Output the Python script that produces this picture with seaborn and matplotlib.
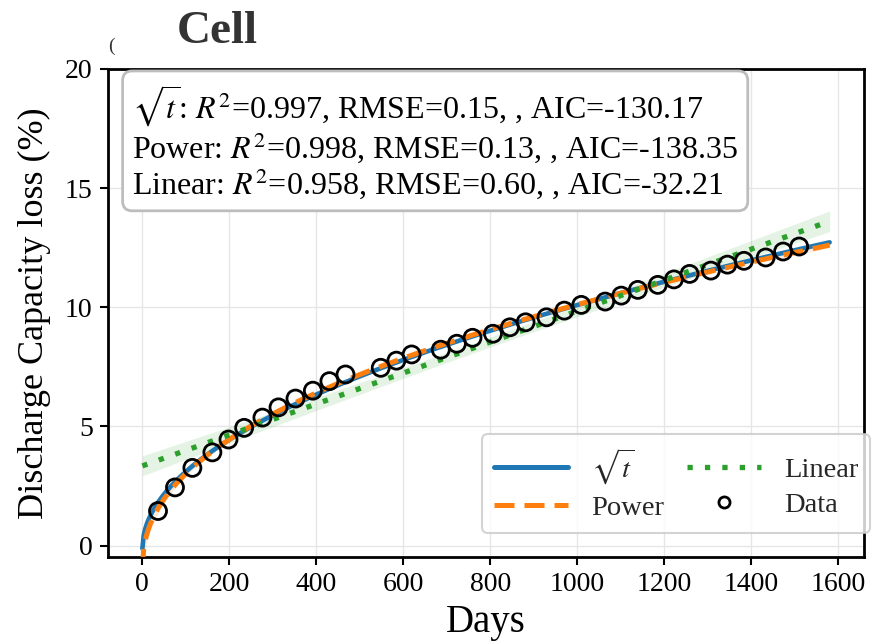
import numpy as np
import pandas as pd
import matplotlib
matplotlib.use("Agg")
import matplotlib.pyplot as plt
import seaborn as sns
from matplotlib.lines import Line2D

# ---------------- data ----------------
days = [36, 75, 115, 161, 198, 234, 276, 313, 352, 392, 430, 467,
        548, 584, 619, 686, 723, 759, 806, 845, 881, 929, 970, 1009,
        1064, 1101, 1139, 1185, 1222, 1258, 1307, 1345, 1383, 1433, 1473, 1510]
loss = [1.45, 2.44, 3.26, 3.91, 4.45, 4.94, 5.37, 5.80, 6.17, 6.50, 6.90, 7.18,
        7.46, 7.76, 8.02, 8.22, 8.47, 8.72, 8.89, 9.16, 9.37, 9.58, 9.86, 10.10,
        10.24, 10.49, 10.73, 10.94, 11.17, 11.40, 11.54, 11.79, 11.95, 12.09, 12.34, 12.55]
fit_end_day = 1580
model_labels = [r"$\sqrt{t}$", "Power", "Linear"]
stats_r2 = ["0.997", "0.998", "0.958"]
stats_rmse = ["0.15", "0.13", "0.60"]
stats_aic = ["-130.17", "-138.35", "-32.21"]
xticks = [0, 200, 400, 600, 800, 1000, 1200, 1400, 1600]
yticks = [0, 5, 10, 15, 20]

# ---------------- fits (least squares on the data) ----------------
t = np.asarray(days, float)
y = np.asarray(loss, float)
n = len(t)
tf = np.linspace(0, fit_end_day, 500)


def lin_fit(X, Xf):
    beta, *_ = np.linalg.lstsq(X, y, rcond=None)
    res = y - X @ beta
    s2 = res @ res / (n - X.shape[1])
    cov = s2 * np.linalg.inv(X.T @ X)
    pred = Xf @ beta
    se = np.sqrt(np.einsum("ij,jk,ik->i", Xf, cov, Xf))
    return pred, 2.03 * se

# sqrt model
sq_pred, sq_ci = lin_fit(np.column_stack([np.sqrt(t), np.ones(n)]),
                         np.column_stack([np.sqrt(tf), np.ones_like(tf)]))
# linear model
li_pred, li_ci = lin_fit(np.column_stack([t, np.ones(n)]),
                         np.column_stack([tf, np.ones_like(tf)]))
# power model y = a t^b + c
best = None
for b in np.arange(0.2, 1.0, 0.0005):
    X = np.column_stack([t ** b, np.ones(n)])
    beta, *_ = np.linalg.lstsq(X, y, rcond=None)
    sse = np.sum((y - X @ beta) ** 2)
    if best is None or sse < best[0]:
        best = (sse, b, beta)
sse, pb, (pa, pc) = best
J = np.column_stack([t ** pb, pa * t ** pb * np.log(t), np.ones(n)])
cov = sse / (n - 3) * np.linalg.inv(J.T @ J)
safe = np.where(tf > 0, tf, 1.0)
lg = np.where(tf > 0, np.log(safe), 0.0)
Jf = np.column_stack([tf ** pb, pa * tf ** pb * lg, np.ones_like(tf)])
pw_pred = pa * tf ** pb + pc
pw_ci = 2.03 * np.sqrt(np.einsum("ij,jk,ik->i", Jf, cov, Jf))

# ---------------- styling ----------------
sns.set_theme(style="whitegrid")
plt.rcParams["font.family"] = ["Liberation Serif", "DejaVu Serif"]
plt.rcParams["mathtext.fontset"] = "stix"

fig = plt.figure(figsize=(8.74, 6.43), dpi=100)
ax = fig.add_axes([108 / 874, 1 - 557 / 643, (864 - 108) / 874, (557 - 69) / 643])

blue, orange, green = "#1f77b4", "#ff7f0e", "#2ca02c"

ax.fill_between(tf, sq_pred - sq_ci, sq_pred + sq_ci, color=blue, alpha=0.12, lw=0, zorder=1)
ax.fill_between(tf, pw_pred - pw_ci, pw_pred + pw_ci, color=orange, alpha=0.15, lw=0, zorder=1)
ax.fill_between(tf, li_pred - li_ci, li_pred + li_ci, color=green, alpha=0.12, lw=0, zorder=1)

df = pd.DataFrame({"t": tf, "sq": sq_pred, "pw": pw_pred, "li": li_pred})
sns.lineplot(data=df, x="t", y="sq", ax=ax, color=blue, lw=3.3, zorder=3)
sns.lineplot(data=df, x="t", y="pw", ax=ax, color=orange, lw=3.6, zorder=4)
ax.lines[-1].set_dashes((4, 2))
sns.lineplot(data=df, x="t", y="li", ax=ax, color=green, lw=3.8, zorder=5)
ax.lines[-1].set_dashes((1, 2.3))
ax.lines[-1].set_dash_capstyle("butt")

ddf = pd.DataFrame({"Days": days, "loss": loss})
sns.scatterplot(data=ddf, x="Days", y="loss", ax=ax, marker="o", s=150,
                facecolors="none", edgecolor="black", linewidth=2, zorder=6)

ax.set_xlim(-79, 1659)
ax.set_ylim(-0.48, 20)
ax.set_xticks(xticks)
ax.set_yticks(yticks)
ax.tick_params(axis="both", labelsize=20, length=6, width=1.5, color="black",
               left=True, bottom=True, pad=5, labelcolor="black")
ax.grid(True, color="#e6e6e6", lw=1)
for s in ax.spines.values():
    s.set_color("black")
    s.set_linewidth(2)
ax.set_xlabel("Days", fontsize=28, labelpad=5, color="black")
ax.set_ylabel("Discharge Capacity loss (%)", fontsize=26, labelpad=10, color="black")

lines = []
for lab, r2, rm, aic in zip(model_labels, stats_r2, stats_rmse, stats_aic):
    lines.append(f"{lab}: $R^2$={r2}, RMSE={rm}, , AIC={aic}")
ax.text(0.032, 0.97, "\n".join(lines), transform=ax.transAxes, fontsize=23,
        va="top", ha="left", linespacing=1.04, color="black",
        bbox=dict(boxstyle="round,pad=0.3", fc="white", ec="#bdbdbd", lw=2), zorder=10)

handles = [
    Line2D([], [], color=blue, lw=3.6),
    Line2D([], [], color=orange, lw=3.6, dashes=(4, 2)),
    Line2D([], [], color=green, lw=3.8, dashes=(1, 2.3), dash_capstyle="butt"),
    Line2D([], [], color="black", marker="o", ls="none", mfc="none", mew=2, ms=8),
]
leg = ax.legend(handles, [model_labels[0], model_labels[1], model_labels[2], "Data"],
                ncol=2, loc="lower right", bbox_to_anchor=(1.008, 0.049),
                borderaxespad=0, fontsize=20.5, frameon=True, fancybox=True,
                handlelength=2.6, handletextpad=0.8, columnspacing=0.8,
                labelspacing=0.3, borderpad=0.42)
leg.get_frame().set_edgecolor("#c8c8c8")
leg.get_frame().set_linewidth(1.5)
leg.set_zorder(11)

fig.text(177 / 874, 1 - 43 / 643, "Cell", fontsize=34, fontweight="bold",
         color="#333333", va="baseline", ha="left")
fig.text(108 / 874, 1 - 51 / 643, "(", fontsize=14, color="#333333", va="baseline")

fig.savefig("out.png", dpi=100)
